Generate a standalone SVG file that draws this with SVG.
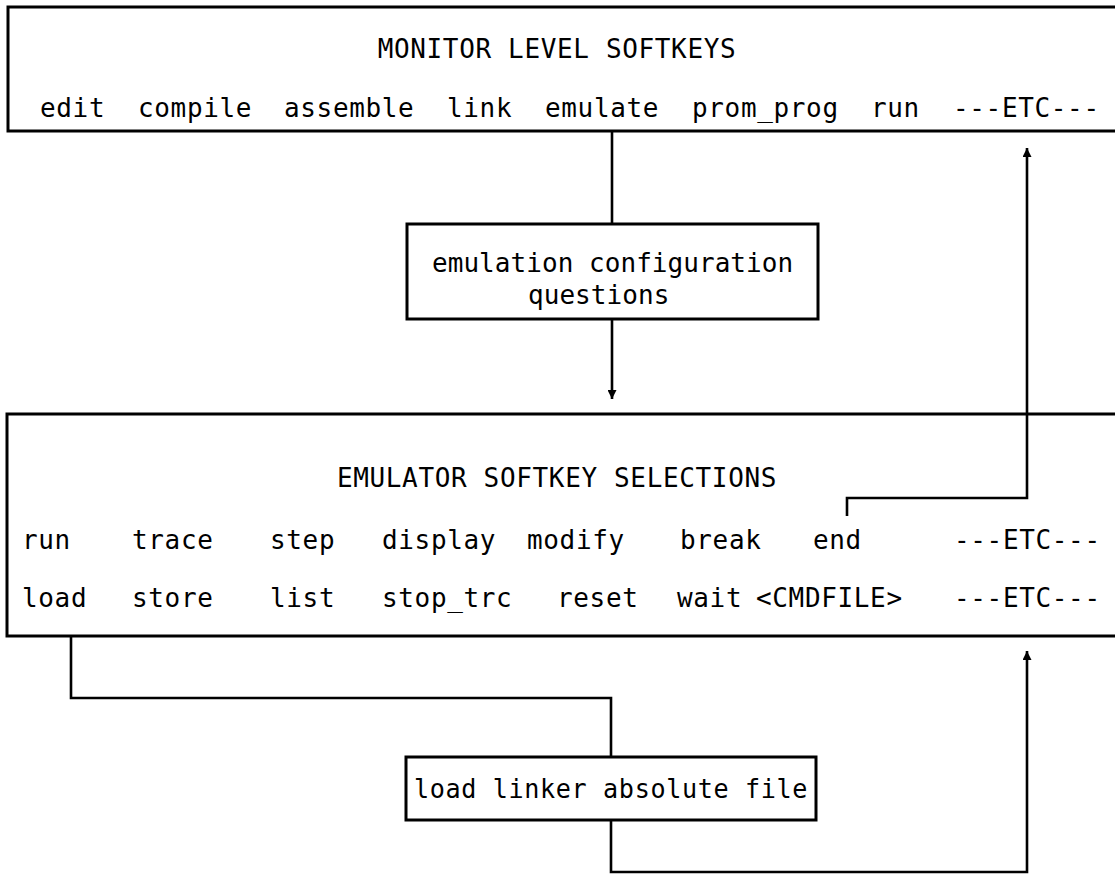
<svg xmlns="http://www.w3.org/2000/svg" width="1115" height="888" viewBox="0 0 1115 888">
<style>
.box{fill:#fff;stroke:#000;stroke-width:3}
.t{font-family:"DejaVu Sans Mono","Liberation Mono",monospace;font-size:26px;letter-spacing:0.65px;fill:#000}
.q{letter-spacing:0.05px}
.c{fill:none;stroke:#000;stroke-width:2.6}
</style>
<defs>
<marker id="ah" viewBox="0 0 10 10" refX="10" refY="5" markerWidth="9" markerHeight="9" markerUnits="userSpaceOnUse" orient="auto">
<path d="M0,0 L10,5 L0,10 z" fill="#000"/>
</marker>
</defs>
<rect width="1115" height="888" fill="#fff"/>
<g id="monitor">
<rect class="box" x="8" y="7" width="1120" height="124"/>
<text class="t" x="557" y="58" text-anchor="middle">MONITOR LEVEL SOFTKEYS</text>
<text class="t" x="40" y="117">edit</text>
<text class="t" x="138" y="117">compile</text>
<text class="t" x="284" y="117">assemble</text>
<text class="t" x="447" y="117">link</text>
<text class="t" x="545" y="117">emulate</text>
<text class="t" x="692" y="117">prom_prog</text>
<text class="t" x="871" y="117">run</text>
<text class="t" x="953" y="117">---ETC---</text>
</g>
<g id="config">
<rect class="box" x="407" y="224" width="411" height="95"/>
<text class="t q" x="432" y="272">emulation configuration</text>
<text class="t q" x="528" y="304">questions</text>
</g>
<g id="emulator">
<rect class="box" x="7" y="414" width="1120" height="222"/>
<text class="t" x="557" y="487" text-anchor="middle">EMULATOR SOFTKEY SELECTIONS</text>
<text class="t" x="22" y="549">run</text>
<text class="t" x="132" y="549">trace</text>
<text class="t" x="270" y="549">step</text>
<text class="t" x="382" y="549">display</text>
<text class="t" x="527" y="549">modify</text>
<text class="t" x="680" y="549">break</text>
<text class="t" x="813" y="549">end</text>
<text class="t" x="954" y="549">---ETC---</text>
<text class="t" x="22" y="607">load</text>
<text class="t" x="132" y="607">store</text>
<text class="t" x="270" y="607">list</text>
<text class="t" x="382" y="607">stop_trc</text>
<text class="t" x="557" y="607">reset</text>
<text class="t" x="677" y="607">wait</text>
<text class="t" x="756" y="607">&lt;CMDFILE&gt;</text>
<text class="t" x="954" y="607">---ETC---</text>
</g>
<g id="loadfile">
<rect class="box" x="406" y="757" width="410" height="63"/>
<text class="t" x="611" y="798" text-anchor="middle" textLength="394" lengthAdjust="spacingAndGlyphs">load linker absolute file</text>
</g>
<g id="connectors">
<path class="c" d="M847,516 V498 H1027 V148" marker-end="url(#ah)"/>
<path class="c" d="M612,131 V224"/>
<path class="c" d="M612,319 V399" marker-end="url(#ah)"/>
<path class="c" d="M71,636 V698 H611 V757"/>
<path class="c" d="M611,820 V872 H1027 V651" marker-end="url(#ah)"/>
</g>
</svg>
